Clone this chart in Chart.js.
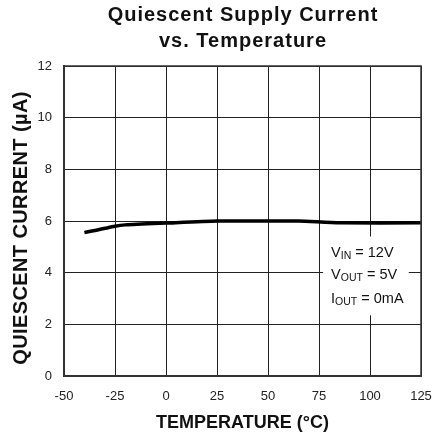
<!DOCTYPE html>
<html><head><meta charset="utf-8">
<script src="https://cdn.jsdelivr.net/npm/chart.js@4"></script>
<style>html,body{margin:0;padding:0;background:#fff}#wrap{width:433px;height:436px}</style>
</head><body><div id="wrap"><canvas id="c" width="433" height="436"></canvas></div>
<script>
const temperatures = [-40, -25, -20, 0, 25, 50, 65, 85, 125];
const currents = [5.55, 5.8, 5.85, 5.92, 6.0, 6.0, 6.0, 5.93, 5.93];
const xTicks = [-50, -25, 0, 25, 50, 75, 100, 125];
const yTicks = [0, 2, 4, 6, 8, 10, 12];
const titleLines = ['Quiescent Supply Current', 'vs. Temperature'];
const xTitle = 'TEMPERATURE (°C)';
const yTitle = 'QUIESCENT CURRENT (µA)';
const noteLines = [['V','IN',' = 12V'],['V','OUT',' = 5V'],['I','OUT',' = 0mA']];
const noteBox = {x0: 77, x1: 119, y0: 5.4, y1: 2.35};

const FONT = '"Liberation Sans", Arial, sans-serif';

const notePlugin = {
  id: 'note',
  beforeDatasetsDraw(chart) {
    const {ctx, scales: {x, y}} = chart;
    const l = x.getPixelForValue(noteBox.x0), r = x.getPixelForValue(noteBox.x1);
    const t = y.getPixelForValue(noteBox.y0), b = y.getPixelForValue(noteBox.y1);
    ctx.save();
    ctx.fillStyle = '#fff';
    ctx.fillRect(l, t, r - l, b - t);
    ctx.fillStyle = '#111';
    ctx.textBaseline = 'alphabetic';
    const baseY = [t + 20, t + 42, t + 66];
    noteLines.forEach((ln, i) => {
      let xx = l + 8;
      ctx.font = '14.5px ' + FONT;
      ctx.fillText(ln[0], xx, baseY[i]);
      xx += ctx.measureText(ln[0]).width;
      ctx.font = '10.5px ' + FONT;
      ctx.fillText(ln[1], xx, baseY[i] + 2);
      xx += ctx.measureText(ln[1]).width;
      ctx.font = '14.5px ' + FONT;
      ctx.fillText(ln[2], xx, baseY[i]);
    });
    ctx.restore();
  }
};

const textPlugin = {
  id: 'texts',
  afterDraw(chart) {
    const {ctx, chartArea: a} = chart;
    const cx = (a.left + a.right) / 2;
    ctx.save();
    ctx.fillStyle = '#111';
    ctx.textAlign = 'center';
    ctx.textBaseline = 'alphabetic';
    ctx.font = 'bold 20px ' + FONT;
    ctx.letterSpacing = '1px';
    ctx.fillText(titleLines[0], cx + 0.5, 21);
    ctx.fillText(titleLines[1], cx + 0.5, 47);
    ctx.letterSpacing = '0px';
    ctx.font = 'bold 18px ' + FONT;
    ctx.fillText(xTitle, cx, 428);
    ctx.translate(27, (a.top + a.bottom) / 2 + 7);
    ctx.rotate(-Math.PI / 2);
    ctx.font = 'bold 20px ' + FONT;
    ctx.letterSpacing = '0.4px';
    ctx.fillText(yTitle, 0, 0);
    ctx.restore();
    ctx.save();
    ctx.strokeStyle = '#333';
    ctx.lineWidth = 1.5;
    ctx.strokeRect(a.left, a.top, a.right - a.left, a.bottom - a.top);
    ctx.restore();
  }
};

new Chart(document.getElementById('c'), {
  type: 'line',
  data: {
    datasets: [{
      data: temperatures.map((t, i) => ({x: t, y: currents[i]})),
      borderColor: '#000',
      borderWidth: 3.5,
      pointRadius: 0,
      tension: 0.2,
      fill: false
    }]
  },
  options: {
    responsive: false,
    animation: false,
    devicePixelRatio: 1,
    layout: {padding: {left: 0, right: 12, top: 66, bottom: 0}},
    plugins: {
      legend: {display: false},
      tooltip: {enabled: false},
      title: {display: false}
    },
    scales: {
      x: {
        type: 'linear',
        min: -50, max: 125,
        afterBuildTicks: s => { s.ticks = xTicks.map(v => ({value: v})); },
        afterFit: s => { s.height = 60; s.paddingLeft = 0; s.paddingRight = 0; },
        ticks: {color: '#222', font: {family: FONT, size: 13}, padding: 13, maxRotation: 0},
        grid: {color: '#222', lineWidth: 1, drawTicks: false},
        border: {color: '#333', width: 2}
      },
      y: {
        min: 0, max: 12,
        afterBuildTicks: s => { s.ticks = yTicks.map(v => ({value: v})); },
        afterFit: s => { s.width = 64; s.paddingTop = 0; s.paddingBottom = 0; },
        ticks: {color: '#222', font: {family: FONT, size: 13}, padding: 12},
        grid: {color: '#222', lineWidth: 1, drawTicks: false},
        border: {color: '#333', width: 2}
      }
    }
  },
  plugins: [notePlugin, textPlugin]
});
</script></body></html>
